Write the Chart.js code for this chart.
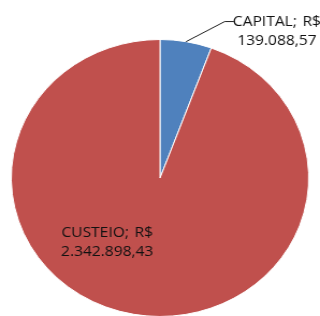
<!DOCTYPE html>
<html>
<head>
<meta charset="utf-8">
<script src="https://cdn.jsdelivr.net/npm/chart.js@4/dist/chart.umd.min.js"></script>
<style>
  html, body { margin: 0; padding: 0; background: #fff; overflow: hidden; }
  #wrap { position: absolute; left: 0; top: 0; width: 298px; height: 317px;
          transform: scaleX(1.0738); transform-origin: 0 0; }
  canvas { display: block; }
</style>
</head>
<body>
<div id="wrap"><canvas id="c" width="298" height="317"></canvas></div>
<script>
const categories = ['CAPITAL', 'CUSTEIO'];
const values = [139088.57, 2342898.43];
const colors = ['#4F81BD', '#C0504D'];

function formatBRL(v) {
  const parts = v.toFixed(2).split('.');
  const intPart = parts[0].replace(/\B(?=(\d{3})+(?!\d))/g, '.');
  return intPart + ',' + parts[1];
}

const labelPlugin = {
  id: 'excelLabels',
  afterDatasetsDraw(chart) {
    const ctx = chart.ctx;
    const meta = chart.getDatasetMeta(0);
    ctx.save();
    ctx.font = '14.5px "Open Sans"';
    ctx.fillStyle = '#111';
    ctx.textAlign = 'center';
    ctx.textBaseline = 'middle';
    meta.data.forEach((arc, i) => {
      const line1 = categories[i] + '; \u200AR$';
      const line2 = formatBRL(values[i]);
      const r = arc.outerRadius;
      if (i === 0) {
        const mid = (arc.startAngle + arc.endAngle) / 2;
        const sx = arc.x + Math.cos(mid) * r;
        const sy = arc.y + Math.sin(mid) * r;
        const ex = sx + 0.26 * r;
        const ey = sy - 0.145 * r;
        ctx.strokeStyle = '#222';
        ctx.lineWidth = 1;
        ctx.beginPath();
        ctx.moveTo(sx, sy);
        ctx.lineTo(ex, ey);
        ctx.lineTo(ex + 0.062 * r, ey);
        ctx.stroke();
        const tx = arc.x + 0.786 * r;
        ctx.fillText(line1, tx, ey + 0.5);
        ctx.fillText(line2, tx, ey + 19);
      } else {
        const tx = arc.x - 0.355 * r;
        const ty = arc.y + 0.385 * r + 1.5;
        ctx.fillText(line1, tx, ty);
        ctx.fillText(line2, tx, ty + 19);
      }
    });
    ctx.restore();
  }
};

new Chart(document.getElementById('c'), {
  type: 'pie',
  data: {
    labels: categories,
    datasets: [{
      data: values,
      backgroundColor: colors,
      borderColor: '#ffffff',
      borderWidth: 1
    }]
  },
  options: {
    responsive: false,
    devicePixelRatio: 1,
    animation: false,
    layout: { padding: { top: 39, bottom: 0, left: 0, right: 0 } },
    plugins: {
      legend: { display: false },
      tooltip: { enabled: false }
    }
  },
  plugins: [labelPlugin]
});
</script>
</body>
</html>
